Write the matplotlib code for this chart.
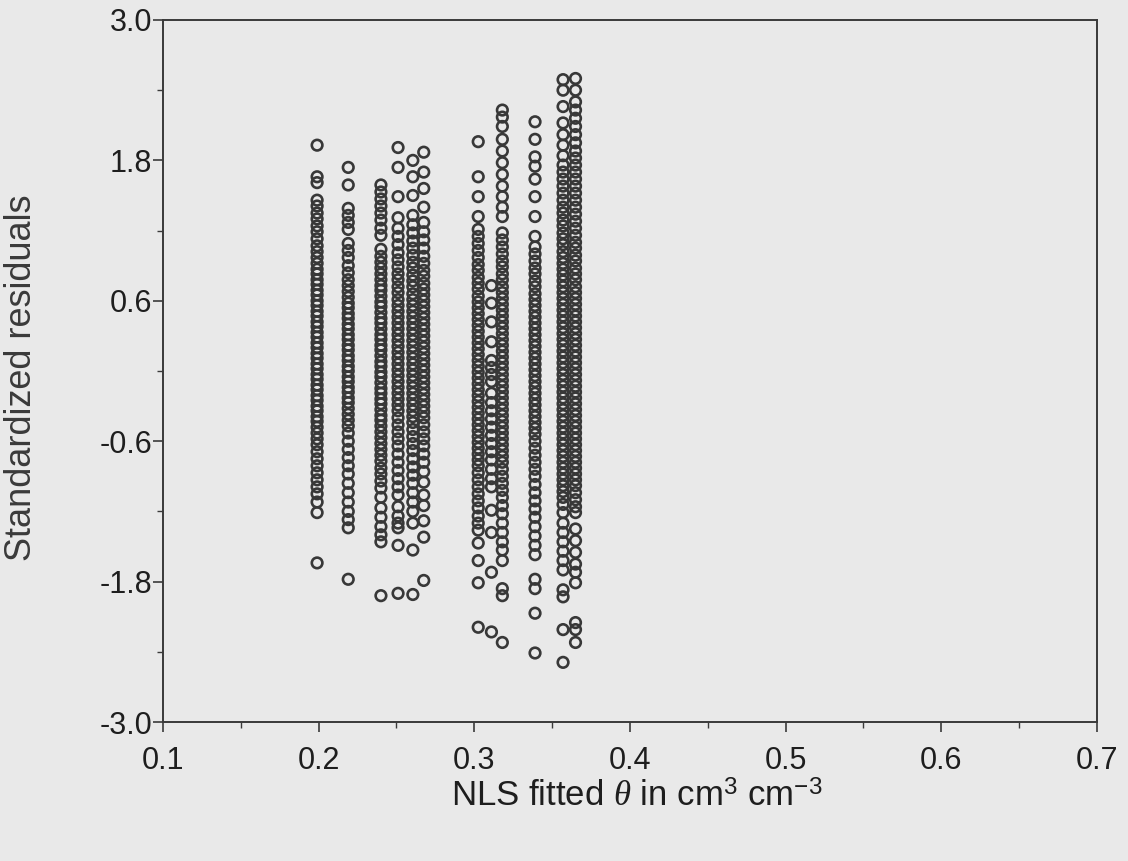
import matplotlib
matplotlib.use("Agg")
import matplotlib.pyplot as plt
from matplotlib.ticker import MultipleLocator

# fitted theta for each column of residuals
theta_cols = [0.199, 0.219, 0.240, 0.251, 0.2605, 0.2675, 0.3025, 0.311, 0.318, 0.339, 0.357, 0.365]

res_a = [1.93, 1.66, 1.61, 1.46, 1.41, 1.35, 1.30, 1.24, 1.19, 1.13, 1.07, 1.02, 0.97, 0.92, 0.87, 0.83, 0.78, 0.74,
         0.69, 0.65, 0.60, 0.56, 0.51, 0.47, 0.42, 0.38, 0.33, 0.29, 0.24, 0.20, 0.15, 0.11, 0.06, 0.02, -0.03, -0.07,
         -0.12, -0.16, -0.21, -0.25, -0.30, -0.34, -0.39, -0.43, -0.48, -0.53, -0.58, -0.63, -0.69, -0.75, -0.81,
         -0.87, -0.93, -0.99, -1.05, -1.12, -1.21, -1.64]
res_b = [1.74, 1.59, 1.39, 1.33, 1.27, 1.21, 1.09, 1.03, 0.97, 0.90, 0.84, 0.78, 0.73, 0.68, 0.63, 0.58, 0.54, 0.49,
         0.45, 0.40, 0.36, 0.31, 0.27, 0.22, 0.18, 0.13, 0.09, 0.04, 0.00, -0.05, -0.09, -0.14, -0.18, -0.23, -0.27,
         -0.32, -0.37, -0.42, -0.47, -0.53, -0.60, -0.67, -0.74, -0.81, -0.88, -0.96, -1.04, -1.12, -1.20, -1.27,
         -1.34, -1.78]
res_c = [1.59, 1.53, 1.47, 1.41, 1.35, 1.29, 1.22, 1.16, 1.04, 0.98, 0.93, 0.88, 0.83, 0.78, 0.73, 0.69, 0.64, 0.59,
         0.55, 0.50, 0.45, 0.41, 0.36, 0.31, 0.27, 0.22, 0.18, 0.13, 0.08, 0.04, -0.01, -0.05, -0.10, -0.15, -0.19,
         -0.24, -0.28, -0.33, -0.38, -0.42, -0.47, -0.52, -0.57, -0.62, -0.67, -0.72, -0.77, -0.83, -0.88, -0.94,
         -1.00, -1.08, -1.17, -1.25, -1.33, -1.40, -1.46, -1.92]
res_d = [1.91, 1.74, 1.49, 1.31, 1.22, 1.15, 1.08, 1.01, 0.95, 0.89, 0.83, 0.78, 0.72, 0.67, 0.61, 0.56, 0.51, 0.46,
         0.41, 0.36, 0.31, 0.26, 0.21, 0.16, 0.11, 0.06, 0.01, -0.04, -0.09, -0.14, -0.19, -0.24, -0.29, -0.34, -0.40,
         -0.46, -0.52, -0.58, -0.64, -0.71, -0.78, -0.85, -0.92, -0.99, -1.06, -1.16, -1.24, -1.30, -1.34, -1.49, -1.90]
res_e = [1.80, 1.66, 1.50, 1.33, 1.25, 1.18, 1.11, 1.05, 0.99, 0.93, 0.88, 0.82, 0.77, 0.72, 0.66, 0.61, 0.56, 0.51,
         0.46, 0.41, 0.36, 0.31, 0.26, 0.21, 0.16, 0.11, 0.06, 0.01, -0.04, -0.09, -0.14, -0.19, -0.24, -0.29, -0.34,
         -0.39, -0.44, -0.50, -0.56, -0.62, -0.68, -0.75, -0.82, -0.89, -0.96, -1.04, -1.12, -1.20, -1.30, -1.53, -1.91]
res_f = [1.87, 1.70, 1.56, 1.40, 1.27, 1.19, 1.12, 1.05, 0.98, 0.92, 0.86, 0.81, 0.75, 0.70, 0.65, 0.60, 0.55, 0.50,
         0.45, 0.40, 0.35, 0.30, 0.25, 0.20, 0.15, 0.10, 0.05, 0.00, -0.05, -0.10, -0.15, -0.20, -0.25, -0.30, -0.35,
         -0.40, -0.46, -0.52, -0.58, -0.64, -0.71, -0.78, -0.86, -0.95, -1.06, -1.15, -1.28, -1.42, -1.79]
res_g = [1.96, 1.66, 1.49, 1.32, 1.21, 1.15, 1.09, 1.03, 0.97, 0.91, 0.86, 0.80, 0.75, 0.70, 0.64, 0.59, 0.54, 0.49,
         0.44, 0.39, 0.34, 0.29, 0.24, 0.19, 0.14, 0.09, 0.04, -0.01, -0.06, -0.11, -0.16, -0.21, -0.26, -0.31, -0.36,
         -0.41, -0.46, -0.51, -0.56, -0.61, -0.66, -0.71, -0.76, -0.81, -0.87, -0.93, -0.99, -1.05, -1.11, -1.17,
         -1.24, -1.30, -1.36, -1.47, -1.62, -1.81, -2.19]
res_h = [0.73, 0.58, 0.42, 0.25, 0.09, 0.03, -0.03, -0.09, -0.19, -0.27, -0.34, -0.41, -0.48, -0.55, -0.62, -0.69,
         -0.76, -0.84, -0.92, -0.99, -1.19, -1.38, -1.72, -2.23]
res_i = [2.23, 2.17, 2.09, 1.98, 1.88, 1.78, 1.68, 1.58, 1.49, 1.40, 1.32, 1.18, 1.12, 1.06, 1.00, 0.94, 0.89, 0.83,
         0.78, 0.72, 0.67, 0.62, 0.57, 0.52, 0.47, 0.42, 0.37, 0.32, 0.27, 0.22, 0.17, 0.12, 0.07, 0.02, -0.03, -0.08,
         -0.13, -0.18, -0.23, -0.28, -0.33, -0.38, -0.43, -0.48, -0.53, -0.58, -0.63, -0.68, -0.73, -0.78, -0.84,
         -0.90, -0.96, -1.02, -1.08, -1.15, -1.22, -1.30, -1.38, -1.46, -1.53, -1.62, -1.86, -1.92, -2.32]
res_j = [2.13, 1.98, 1.83, 1.75, 1.64, 1.49, 1.32, 1.15, 1.06, 1.00, 0.94, 0.88, 0.83, 0.77, 0.72, 0.66, 0.61, 0.56,
         0.51, 0.46, 0.41, 0.36, 0.31, 0.26, 0.21, 0.16, 0.11, 0.06, 0.01, -0.04, -0.09, -0.14, -0.19, -0.24, -0.29,
         -0.34, -0.39, -0.44, -0.49, -0.54, -0.60, -0.66, -0.72, -0.78, -0.84, -0.90, -0.97, -1.04, -1.11, -1.18,
         -1.25, -1.33, -1.41, -1.49, -1.57, -1.78, -1.86, -2.07, -2.41]
res_k = [2.49, 2.40, 2.26, 2.12, 2.02, 1.93, 1.84, 1.76, 1.70, 1.64, 1.58, 1.52, 1.46, 1.40, 1.35, 1.29, 1.24, 1.18,
         1.13, 1.08, 1.02, 0.97, 0.92, 0.87, 0.82, 0.77, 0.72, 0.67, 0.62, 0.57, 0.52, 0.47, 0.42, 0.37, 0.32, 0.27,
         0.22, 0.17, 0.12, 0.07, 0.02, -0.03, -0.08, -0.13, -0.18, -0.23, -0.28, -0.33, -0.38, -0.43, -0.48, -0.53,
         -0.58, -0.63, -0.68, -0.73, -0.78, -0.83, -0.88, -0.93, -0.98, -1.03, -1.08, -1.14, -1.21, -1.30, -1.38,
         -1.46, -1.54, -1.62, -1.70, -1.87, -1.93, -2.21, -2.49]
res_l = [2.50, 2.40, 2.30, 2.23, 2.16, 2.09, 2.02, 1.95, 1.88, 1.82, 1.76, 1.70, 1.64, 1.58, 1.52, 1.46, 1.40, 1.34,
         1.28, 1.22, 1.16, 1.10, 1.05, 0.99, 0.94, 0.88, 0.83, 0.78, 0.72, 0.67, 0.62, 0.57, 0.52, 0.47, 0.42, 0.37,
         0.32, 0.27, 0.22, 0.17, 0.12, 0.07, 0.02, -0.03, -0.08, -0.13, -0.18, -0.23, -0.28, -0.33, -0.38, -0.43,
         -0.48, -0.53, -0.58, -0.63, -0.68, -0.73, -0.78, -0.83, -0.88, -0.93, -0.98, -1.04, -1.10, -1.16, -1.21,
         -1.35, -1.45, -1.55, -1.65, -1.72, -1.81, -2.15, -2.21, -2.32]

residual_cols = [res_a, res_b, res_c, res_d, res_e, res_f, res_g, res_h, res_i, res_j, res_k, res_l]

x_ticks = [0.1, 0.2, 0.3, 0.4, 0.5, 0.6, 0.7]
y_ticks = [-3.0, -1.8, -0.6, 0.6, 1.8, 3.0]

bg = "#e9e9e9"
plt.rcParams["font.family"] = ["Liberation Sans", "DejaVu Sans"]
plt.rcParams["mathtext.fontset"] = "custom"
plt.rcParams["mathtext.rm"] = "Liberation Sans"
plt.rcParams["mathtext.it"] = "Liberation Serif:italic"

fig = plt.figure(figsize=(11.28, 8.61), dpi=100, facecolor=bg)
ax = fig.add_axes([0.1445, 0.1614, 0.828, 0.8154], facecolor=bg)

for th, vals in zip(theta_cols, residual_cols):
    ax.scatter([th] * len(vals), vals, s=58, facecolors="none", edgecolors="#383838", linewidths=1.9)

ax.set_xlim(0.1, 0.7)
ax.set_ylim(-3.0, 3.0)
ax.set_xticks(x_ticks)
ax.set_yticks(y_ticks)
ax.set_xticklabels([f"{v:.1f}" for v in x_ticks])
ax.set_yticklabels([f"{v:.1f}" for v in y_ticks])
ax.xaxis.set_minor_locator(MultipleLocator(0.05))
ax.yaxis.set_minor_locator(MultipleLocator(0.6))

for s in ax.spines.values():
    s.set_color("#3a3a3a")
    s.set_linewidth(1.4)

ax.tick_params(which="major", direction="out", length=7, width=1.2, color="#3a3a3a",
               labelsize=22, labelcolor="#1e1e1e")
ax.tick_params(which="minor", direction="out", length=4, width=1.0, color="#3a3a3a")
ax.tick_params(axis="x", which="major", pad=10)
ax.tick_params(axis="y", which="major", pad=1)

ax.set_xlabel(r"NLS fitted $\theta$ in cm$^3$ cm$^{-3}$", fontsize=25, color="#1e1e1e")
ax.xaxis.set_label_coords(0.507, -0.083)
ax.set_ylabel("Standardized residuals", fontsize=26, color="#3a3a3a")
ax.yaxis.set_label_coords(-0.133, 0.49)

fig.savefig("out.png", dpi=100, facecolor=bg)
